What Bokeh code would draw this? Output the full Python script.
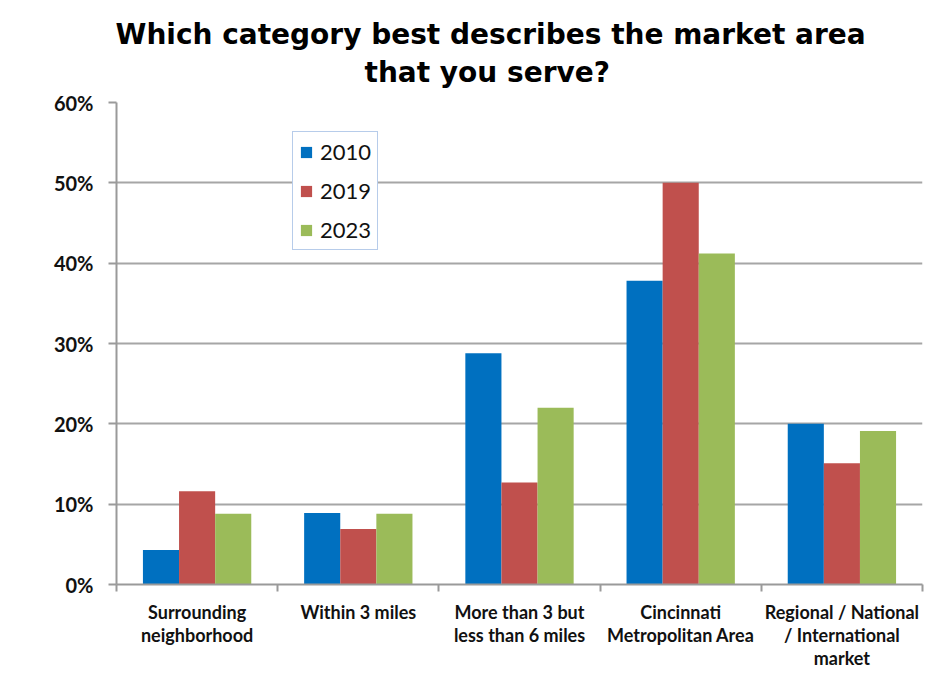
from bokeh.plotting import figure
from bokeh.models import (ColumnDataSource, FixedTicker, NumeralTickFormatter,
                          Title, Legend, LegendItem, Range1d)
from bokeh.embed import file_html
from bokeh.resources import INLINE

categories = ["Surrounding\nneighborhood", "Within 3 miles",
              "More than 3 but\nless than 6 miles",
              "Cincinnati\nMetropolitan Area",
              "Regional / National\n/ International\nmarket"]
years = ["2010", "2019", "2023"]
v2010 = [0.043, 0.089, 0.288, 0.378, 0.200]
v2019 = [0.116, 0.069, 0.127, 0.500, 0.151]
v2023 = [0.088, 0.088, 0.220, 0.412, 0.191]
colors = ["#0070C0", "#C0504D", "#9BBB59"]
y_ticks = [0.0, 0.1, 0.2, 0.3, 0.4, 0.5, 0.6]
title_lines = ["Which category best describes the market area", "that you serve?"]

n = len(categories)
centers = [i + 0.5 for i in range(n)]
bw = 0.224
offsets = [-bw, 0.0, bw]

p = figure(width=943, height=676, output_backend="svg", toolbar_location=None,
           x_range=Range1d(0, n), y_range=Range1d(0, 0.6),
           min_border_left=116, min_border_right=21, min_border_top=102,
           min_border_bottom=92)
p.title = None
p.outline_line_color = None
p.background_fill_color = "white"
p.border_fill_color = "white"

items = []
for yr, vals, col, off in zip(years, [v2010, v2019, v2023], colors, offsets):
    src = ColumnDataSource(dict(x=[c + off for c in centers], top=vals))
    r = p.vbar(x="x", top="top", bottom=0, width=bw, source=src,
               fill_color=col, line_color=None)
    items.append(LegendItem(label=yr, renderers=[r]))

# x axis
xa = p.xaxis[0]
xa.ticker = FixedTicker(ticks=centers, minor_ticks=list(range(n + 1)))
xa.major_label_overrides = {c: lab for c, lab in zip(centers, categories)}
xa.major_tick_out = 0
xa.major_tick_in = 0
xa.minor_tick_out = 7
xa.minor_tick_in = 0
xa.minor_tick_line_color = "#9a9a9a"
xa.minor_tick_line_width = 2
xa.axis_line_color = "#9a9a9a"
xa.axis_line_width = 2
xa.major_label_text_font = "Lato"
xa.major_label_text_font_style = "bold"
xa.major_label_text_font_size = "18px"
xa.major_label_text_line_height = 1.05
xa.major_label_text_color = "#111111"
xa.major_label_standoff = 9

# y axis
ya = p.yaxis[0]
ya.ticker = FixedTicker(ticks=y_ticks)
ya.formatter = NumeralTickFormatter(format="0%")
ya.major_tick_out = 8
ya.major_tick_in = 0
ya.minor_tick_out = 0
ya.minor_tick_in = 0
ya.major_tick_line_color = "#9a9a9a"
ya.major_tick_line_width = 2
ya.axis_line_color = "#9a9a9a"
ya.axis_line_width = 2
ya.major_label_text_font = "Lato"
ya.major_label_text_font_style = "bold"
ya.major_label_text_font_size = "20px"
ya.major_label_text_color = "#111111"
ya.major_label_standoff = 15

p.xgrid.grid_line_color = None
p.ygrid.grid_line_color = "#a6a6a6"
p.ygrid.grid_line_width = 2
p.ygrid.ticker = FixedTicker(ticks=y_ticks)

legend = Legend(items=items, location=(176, 334), orientation="vertical",
                label_text_font="Lato", label_text_font_size="22px",
                label_text_color="#111111",
                glyph_width=14, glyph_height=14, label_standoff=7,
                label_height=24, spacing=12, padding=6, margin=0,
                border_line_color="#6f9ad6", border_line_width=1,
                background_fill_color="white", background_fill_alpha=1)
p.add_layout(legend, "center")

t2 = Title(text=title_lines[1], align="left", offset=248,
           text_font="DejaVu Sans", text_font_style="bold",
           text_font_size="28px", text_color="black", standoff=28)
t1 = Title(text=title_lines[0], align="left", offset=-1,
           text_font="DejaVu Sans", text_font_style="bold",
           text_font_size="28px", text_color="black", standoff=-22)
p.add_layout(t2, "above")
p.add_layout(t1, "above")

open("out.html", "w").write(file_html(p, INLINE))
